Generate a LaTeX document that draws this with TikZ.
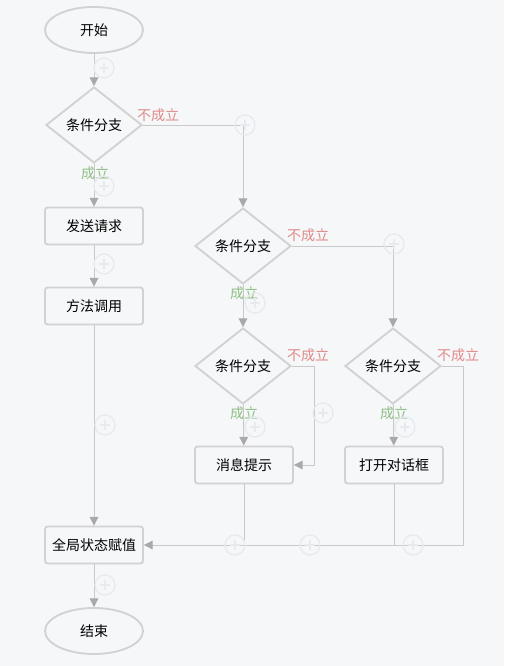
\documentclass[tikz,border=0pt]{standalone}
\usepackage{fontspec}
\setmainfont{Noto Sans CJK SC}
\usetikzlibrary{shapes.geometric,arrows.meta}
\definecolor{bgc}{HTML}{F6F7F9}
\definecolor{bordc}{HTML}{D2D2D2}
\definecolor{linec}{HTML}{C9C9C9}
\definecolor{tipc}{HTML}{A9A9A9}
\definecolor{noc}{HTML}{E08A8A}
\definecolor{yesc}{HTML}{8FBF83}
\definecolor{plusc}{HTML}{E7EAEF}
\tikzset{
  base/.style={draw=bordc, line width=1.4pt, fill=bgc, font=\fontsize{10.5pt}{12pt}\selectfont, text=black, inner sep=0pt},
  term/.style={base, ellipse, minimum width=73.5pt, minimum height=34.5pt},
  cond/.style={base, diamond, minimum width=72pt, minimum height=57pt},
  proc/.style={base, rectangle, rounded corners=2pt, minimum width=73.5pt, minimum height=27.75pt},
  conn/.style={draw=linec, line width=0.7pt},
  arr/.style={conn, -{Triangle[length=6.5pt,width=6.5pt,fill=tipc,color=tipc]}},
  nolab/.style={text=noc, font=\fontsize{10.5pt}{12pt}\selectfont, inner sep=0pt},
  yeslab/.style={text=yesc, font=\fontsize{10.5pt}{12pt}\selectfont, inner sep=0pt},
  plusmark/.style={draw=plusc, line width=1pt}
}
\begin{document}
\begin{tikzpicture}[x=0.75pt,y=-0.75pt]
\fill[bgc] (0,0) rectangle (504,666);
\useasboundingbox (0,0) rectangle (504,666);

% nodes
\node[term] (s) at (94,30) {开始};
\node[cond] (d1) at (94,125) {条件分支};
\node[proc] (b1) at (94,226) {发送请求};
\node[proc] (b2) at (94,306) {方法调用};
\node[cond] (d2) at (243,246) {条件分支};
\node[cond] (d3) at (243,366) {条件分支};
\node[cond] (d4) at (393,366) {条件分支};
\node[proc] (m) at (244,465) {消息提示};
\node[proc] (o) at (394,465) {打开对话框};
\node[proc] (g) at (94,545) {全局状态赋值};
\node[term] (e) at (94,631) {结束};

\coordinate (r3) at (314,0);
\coordinate (r4) at (463,0);
\coordinate (jy) at (0,545);

% connectors
\draw[arr] (s) -- (d1);
\draw[arr] (d1) -- (b1);
\draw[arr] (b1) -- (b2);
\draw[arr] (b2) -- (g);
\draw[arr] (g) -- (e);
\draw[arr] (d1.east) -| (d2.north);
\draw[arr] (d2.east) -| (d4.north);
\draw[arr] (d2) -- (d3);
\draw[arr] (d3) -- (m);
\draw[arr] (d4) -- (o);
\draw[arr] (d3.east) -- (d3.east -| r3) -- (m.east -| r3) -- (m.east);
\draw[arr] (d4.east) -- (d4.east -| r4) -- (g.east -| r4) -- (g.east);
\draw[conn] (m.south) -- (m.south |- jy);
\draw[conn] (o.south) -- (o.south |- jy);

% labels
\node[nolab] (n1) at (158,115) {不成立};
\node[nolab] (n2) at (308,235) {不成立};
\node[nolab] (n3) at (308,355) {不成立};
\node[nolab] (n4) at (458,355) {不成立};
\node[yeslab] (y1) at (95,173) {成立};
\node[yeslab] (y2) at (244,293) {成立};
\node[yeslab] (y3) at (244,413) {成立};
\node[yeslab] (y4) at (394,413) {成立};

% faint add markers
\foreach \px/\py in {104/68, 245/125, 104/186, 104/264, 394/244, 255/303, 323/413, 255/427, 405/427, 105/425, 235/545, 310/545, 413/545, 105/585}{
  \draw[plusmark] (\px,\py) circle[radius=10];
  \draw[plusmark] (\px-5,\py) -- (\px+5,\py) (\px,\py-5) -- (\px,\py+5);
}
\end{tikzpicture}
\end{document}
